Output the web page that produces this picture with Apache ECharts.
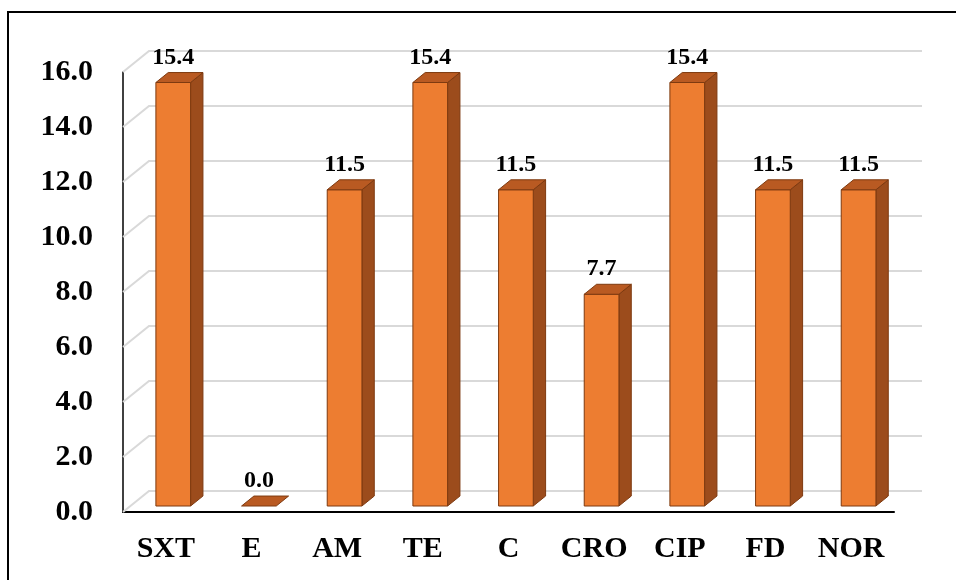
<!DOCTYPE html>
<html>
<head>
<meta charset="utf-8">
<script src="https://cdn.jsdelivr.net/npm/echarts@6/dist/echarts.min.js"></script>
<style>
  html, body { margin: 0; padding: 0; background: #fff; }
  #chart { width: 956px; height: 580px; }
</style>
</head>
<body>
<div id="chart"></div>
<script>
const categories = ['SXT', 'E', 'AM', 'TE', 'C', 'CRO', 'CIP', 'FD', 'NOR'];
const values = [15.4, 0.0, 11.5, 15.4, 11.5, 7.7, 15.4, 11.5, 11.5];
const yTicks = [0, 2, 4, 6, 8, 10, 12, 14, 16];

const FONT = '"Liberation Serif", "Times New Roman", serif';
// depth of the floor / back wall in screen pixels
const WALL_DX = 26, WALL_DY = -21;
// where each bar sits inside that depth (fractions) and its width within the band
const BAR_FRONT = 0.285, BAR_BACK = 0.76, BAR_W = 0.405;

const COLORS = {
  front: '#ED7D31',
  side: '#9C4C1C',
  top: '#B95A22',
  edge: '#7E3A10',
  grid: '#D9D9D9'
};

const chart = echarts.init(document.getElementById('chart'));

function wallLine(params, api) {
  const cs = params.coordSys;
  const y = api.coord([0, api.value(1)])[1];
  return {
    type: 'polyline',
    silent: true,
    shape: {
      points: [
        [cs.x, y],
        [cs.x + WALL_DX, y + WALL_DY],
        [cs.x + cs.width + WALL_DX + 2, y + WALL_DY]
      ]
    },
    style: { stroke: COLORS.grid, lineWidth: 2, fill: null }
  };
}

function bar3d(params, api) {
  const cs = params.coordSys;
  const i = api.value(0), v = api.value(1);
  const base = api.coord([i, 0]);
  const top = api.coord([i, v]);
  const band = cs.width / categories.length;
  const w = band * BAR_W;
  const fx = base[0] + WALL_DX * BAR_FRONT - w / 2;
  const fy0 = base[1] + WALL_DY * BAR_FRONT;
  const fy1 = top[1] + WALL_DY * BAR_FRONT;
  const ddx = WALL_DX * (BAR_BACK - BAR_FRONT);
  const ddy = WALL_DY * (BAR_BACK - BAR_FRONT);
  const edge = { stroke: COLORS.edge, lineWidth: 1, lineJoin: 'round' };
  const children = [];
  if (fy0 - fy1 > 0.5) {
    children.push({
      type: 'polygon',
      shape: { points: [[fx + w, fy1], [fx + w + ddx, fy1 + ddy], [fx + w + ddx, fy0 + ddy], [fx + w, fy0]] },
      style: Object.assign({ fill: COLORS.side }, edge)
    });
    children.push({
      type: 'rect',
      shape: { x: fx, y: fy1, width: w, height: fy0 - fy1 },
      style: Object.assign({ fill: COLORS.front }, edge)
    });
  }
  children.push({
    type: 'polygon',
    shape: { points: [[fx, fy1], [fx + ddx, fy1 + ddy], [fx + w + ddx, fy1 + ddy], [fx + w, fy1]] },
    style: Object.assign({ fill: COLORS.top }, edge)
  });
  children.push({
    type: 'text',
    style: {
      text: v.toFixed(1),
      x: fx + w / 2,
      y: fy1 + ddy - 3,
      align: 'center',
      verticalAlign: 'bottom',
      fill: '#000',
      font: 'bold 24px ' + FONT
    }
  });
  return { type: 'group', children: children };
}

const option = {
  backgroundColor: '#fff',
  animation: false,
  grid: { left: 123, top: 72, width: 771, height: 440 },
  xAxis: {
    type: 'category',
    data: categories,
    axisLine: { show: true, lineStyle: { color: '#000', width: 2 } },
    axisTick: { show: false },
    splitLine: { show: false },
    axisLabel: {
      interval: 0,
      margin: 22,
      color: '#000',
      fontFamily: FONT,
      fontWeight: 'bold',
      fontSize: 30
    }
  },
  yAxis: {
    type: 'value',
    min: 0,
    max: 16,
    interval: 2,
    axisLine: { show: true, lineStyle: { color: '#000', width: 1.5 } },
    axisTick: { show: false },
    splitLine: { show: false },
    axisLabel: {
      margin: 30,
      color: '#000',
      fontFamily: FONT,
      fontWeight: 'bold',
      fontSize: 30,
      formatter: v => v.toFixed(1)
    }
  },
  graphic: [{
    type: 'rect',
    silent: true,
    z: 100,
    shape: { x: 8, y: 12, width: 1000, height: 1000 },
    style: { fill: null, stroke: '#000', lineWidth: 2 }
  }],
  series: [
    {
      type: 'custom',
      name: 'wall',
      z: 1,
      silent: true,
      data: yTicks.map(t => [0, t]),
      renderItem: wallLine
    },
    {
      type: 'custom',
      name: 'share',
      z: 3,
      data: values.map((v, i) => [i, v]),
      encode: { x: 0, y: 1 },
      renderItem: bar3d
    }
  ]
};

chart.setOption(option);
</script>
</body>
</html>
